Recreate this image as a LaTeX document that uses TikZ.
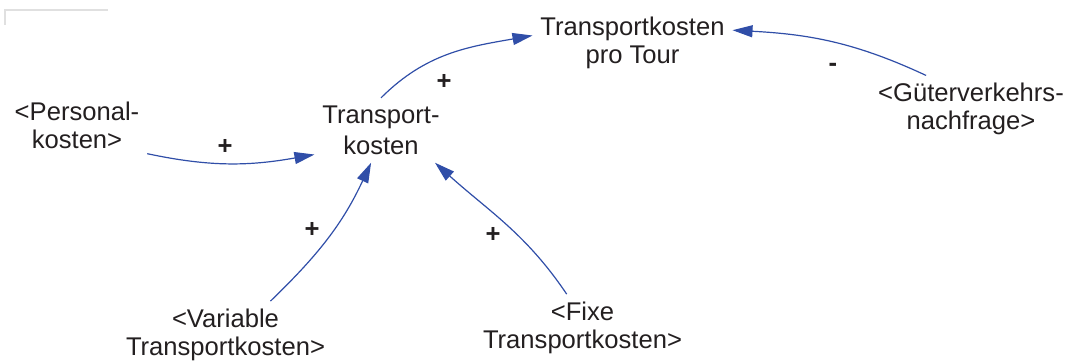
\documentclass[tikz,border=0pt]{standalone}
\usepackage{fontspec}
\setmainfont{Liberation Sans}
\usetikzlibrary{arrows.meta}

\definecolor{linkblue}{RGB}{48,78,168}
\definecolor{textgrey}{RGB}{35,31,32}
\definecolor{framegrey}{RGB}{224,224,224}

\begin{document}
\begin{tikzpicture}[x=0.75pt, y=0.75pt,
  varnode/.style={align=center, inner sep=6pt, outer sep=0pt,
                  text=textgrey, font=\fontsize{19.2}{20.9}\selectfont},
  signnode/.style={inner sep=0pt, text=textgrey,
                   font=\bfseries\fontsize{19.2}{20.9}\selectfont},
  causal/.style={draw=linkblue, line width=0.9pt,
                 -{Triangle[length=15pt, width=9pt]}},
  ]
\useasboundingbox (0,0) rectangle (1076,-364);

% frame corner top left
\draw[framegrey, line width=1.5pt] (5,-25) -- (5,-10) -- (108,-10);

\node[varnode] (tpt) at (632.5,-42.5) {Transportkosten\\pro Tour};
\node[varnode, font=\fontsize{19.2}{23.25}\selectfont] (tk) at (381,-130.3) {Transport-\\kosten};
\node[varnode] (pers) at (77,-125.3) {<Personal-\\kosten>};
\node[varnode] (gv) at (971,-109.3) {<Güterverkehrs-\\nachfrage>};
\node[varnode] (varkost) at (225.5,-335) {<Variable\\Transportkosten>};
\node[varnode] (fixkost) at (582.5,-328) {<Fixe\\Transportkosten>};

\draw[causal] (pers.-22) to[out=-12, in=190] (tk.200);
\draw[causal] (tk.north) to[out=45, in=190] (tpt.176);
\draw[causal] (gv.143) to[out=155, in=-3] (tpt.7);
\draw[causal] (varkost.37) to[out=44, in=245] (tk.253);
\draw[causal] (fixkost.115) to[out=124, in=-42] (tk.-31);

%% polarities
\node[signnode] (pPers) at (225,-147) {+};
\node[signnode] (pTk) at (444,-82) {+};
\node[signnode] (mGv) at (833,-67) {-};
\node[signnode] (pVar) at (312,-230) {+};
\node[signnode] (pFix) at (493,-235) {+};
\end{tikzpicture}
\end{document}
